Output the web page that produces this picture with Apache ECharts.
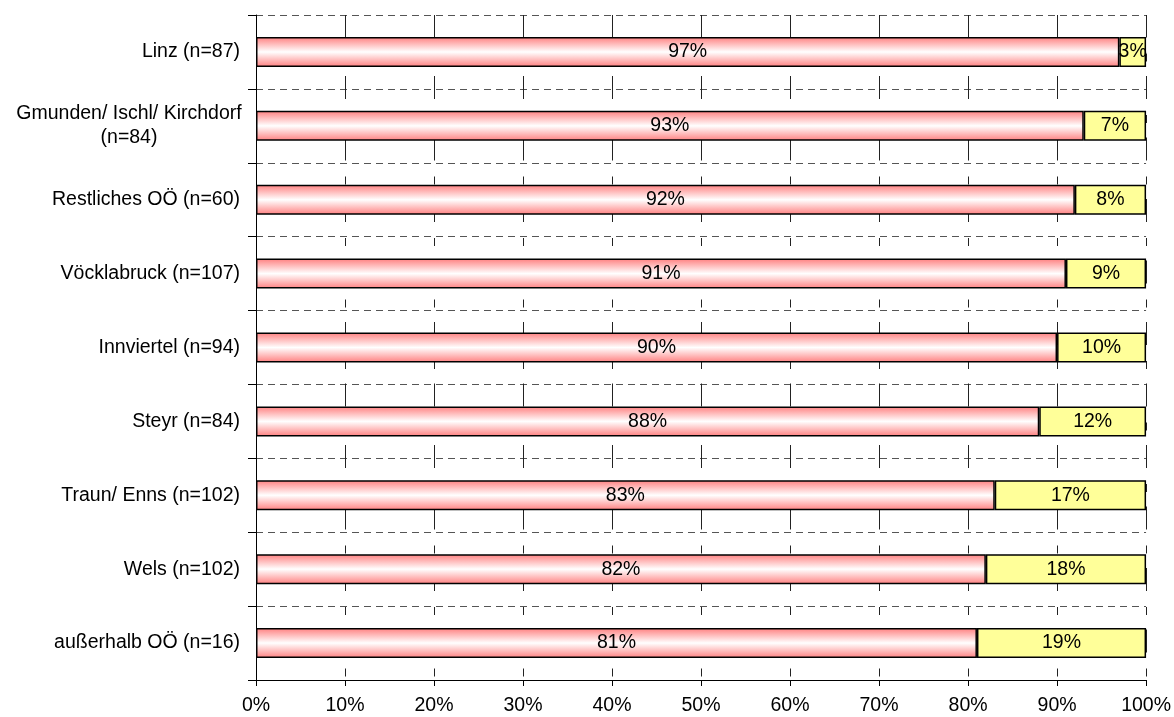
<!DOCTYPE html>
<html>
<head>
<meta charset="utf-8">
<script src="https://cdn.jsdelivr.net/npm/echarts@6/dist/echarts.min.js"></script>
<style>
  html, body { margin: 0; padding: 0; background: #ffffff; }
  #chart { width: 1174px; height: 717px; }
</style>
</head>
<body>
<div id="chart"></div>
<script>
// Regions, top to bottom
const categories = [
  'Linz (n=87)',
  'Gmunden/ Ischl/ Kirchdorf\n(n=84)',
  'Restliches OÖ (n=60)',
  'Vöcklabruck (n=107)',
  'Innviertel (n=94)',
  'Steyr (n=84)',
  'Traun/ Enns (n=102)',
  'Wels (n=102)',
  'außerhalb OÖ (n=16)'
];
// Share in percent for the two answer groups
const firstShare  = [97, 93, 92, 91, 90, 88, 83, 82, 81];
const secondShare = [3, 7, 8, 9, 10, 12, 17, 18, 19];
// Value-axis ticks
const xTicks = [0, 10, 20, 30, 40, 50, 60, 70, 80, 90, 100];

const FONT = 'Arial, "Liberation Sans", sans-serif';
const FS = 19.5;

const chart = echarts.init(document.getElementById('chart'), null, { renderer: 'canvas' });

const barLabel = {
  show: true,
  position: 'inside',
  color: '#000000',
  fontFamily: FONT,
  fontSize: FS,
  formatter: p => p.value + '%'
};

chart.setOption({
  animation: false,
  backgroundColor: '#ffffff',
  grid: { left: 256, right: 27, top: 15, bottom: 37, containLabel: false },
  xAxis: {
    type: 'value',
    min: xTicks[0],
    max: xTicks[xTicks.length - 1],
    interval: xTicks[1] - xTicks[0],
    axisLine: { show: true, lineStyle: { color: '#000000', width: 1 } },
    axisTick: { show: true, length: 6, lineStyle: { color: '#000000' } },
    axisLabel: {
      color: '#000000', fontFamily: FONT, fontSize: FS, margin: 16,
      formatter: v => v + '%'
    },
    splitLine: {
      show: true,
      lineStyle: { color: '#222222', width: 1, type: [23, 16, 8, 14.5], dashOffset: 0.5 }
    }
  },
  yAxis: {
    type: 'category',
    inverse: true,
    data: categories,
    axisLine: { show: true, lineStyle: { color: '#000000', width: 1 } },
    axisTick: { show: true, length: 8, lineStyle: { color: '#000000' } },
    axisLabel: {
      color: '#000000', fontFamily: FONT, fontSize: FS, margin: 16,
      formatter: v => v.indexOf('\n') >= 0
        ? v.split('\n').map(s => '{c|' + s + '}').join('\n')
        : v,
      rich: {
        c: { width: 222, align: 'center', fontFamily: FONT, fontSize: FS, lineHeight: 24, color: '#000000' }
      }
    },
    splitLine: {
      show: true,
      lineStyle: { color: '#555555', width: 1, type: [7, 5] }
    }
  },
  series: [
    {
      type: 'bar',
      stack: 'total',
      data: firstShare,
      barWidth: 30,
      itemStyle: {
        color: new echarts.graphic.LinearGradient(0, 0, 0, 1, [
          { offset: 0, color: '#ff7f7f' },
          { offset: 0.5, color: '#ffffff' },
          { offset: 1, color: '#ff7f7f' }
        ]),
        borderColor: '#000000',
        borderWidth: 1.5
      },
      label: barLabel
    },
    {
      type: 'bar',
      stack: 'total',
      data: secondShare,
      barWidth: 30,
      itemStyle: { color: '#ffff99', borderColor: '#000000', borderWidth: 1.5 },
      label: barLabel
    }
  ]
});
</script>
</body>
</html>
